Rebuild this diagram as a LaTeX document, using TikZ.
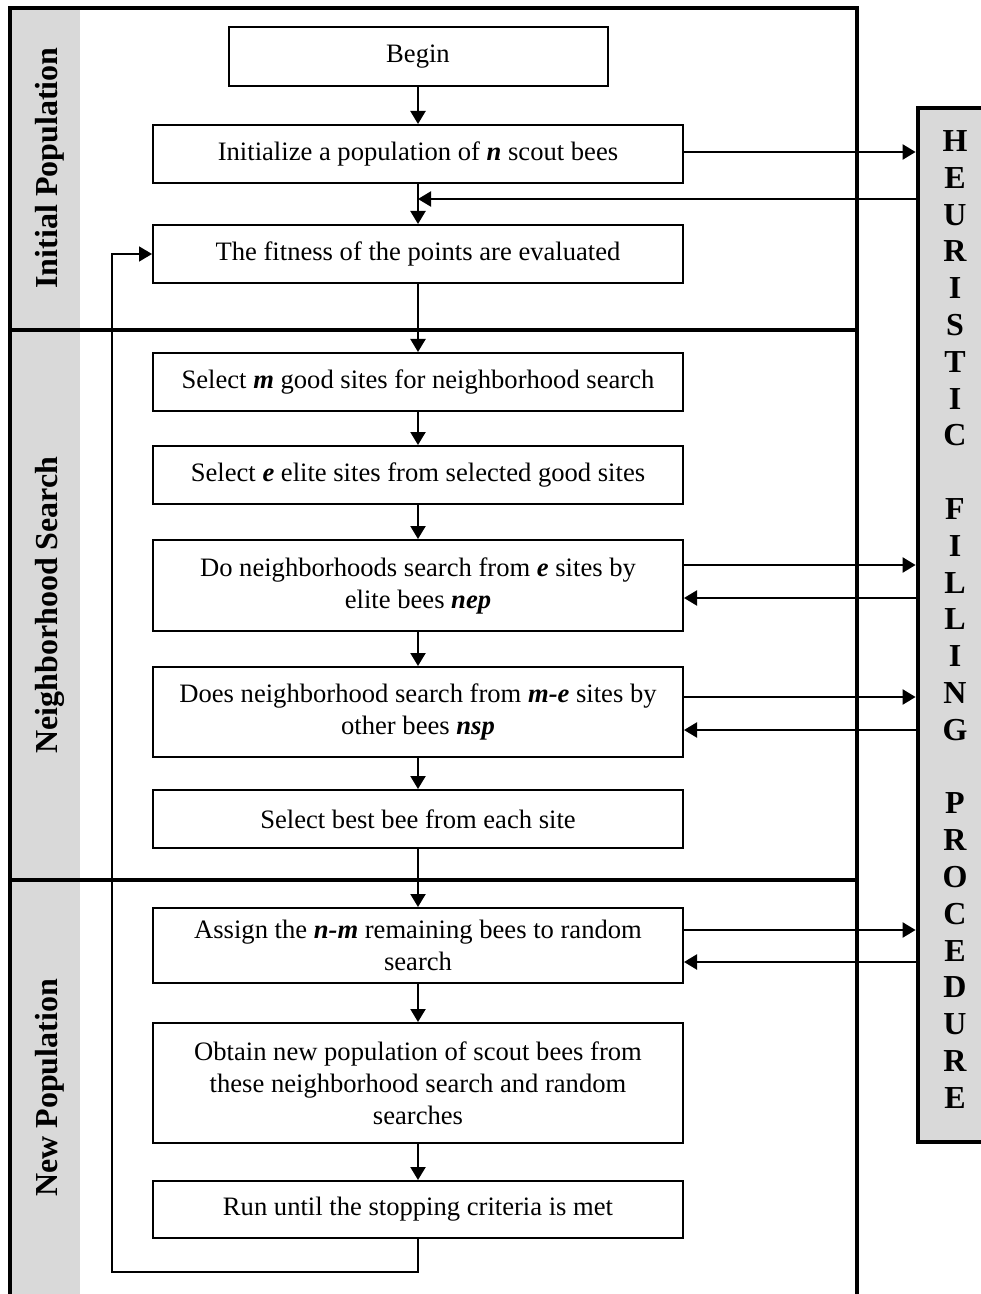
\documentclass[tikz,border=0pt]{standalone}
\usepackage{fontspec}
\setmainfont{Liberation Serif}
\usetikzlibrary{arrows.meta}
\definecolor{gris}{RGB}{217,217,217}
\tikzstyle{caja}=[draw,line width=1pt,minimum width=265pt,align=center,inner sep=2pt,font=\fontsize{13.3}{16}\selectfont]
\tikzstyle{flecha}=[line width=1.1pt,-{Triangle[length=6.5pt,width=7.5pt]}]
\tikzstyle{marco}=[line width=2.4pt]
\tikzstyle{seccion}=[rotate=90,inner sep=0pt,font=\fontsize{16}{18}\selectfont\bfseries]
\newcommand{\vb}[1]{\textbf{\textit{#1}}}

\begin{document}
\begin{tikzpicture}[x=0.5pt,y=-0.5pt]
    \useasboundingbox (0,0) rectangle (980,1294);
    \fill [gris] (12,8) rectangle (80,1294);
    \draw [marco] (10,1294) -- (10,8) -- (857,8) -- (857,1294);
    \draw [marco] (10,330) -- (857,330);
    \draw [marco] (10,880) -- (857,880);
    \node [seccion] (inicial) at (50,168) {Initial Population};
    \node [seccion] (vecindad) at (50,605) {Neighborhood Search};
    \node [seccion] (nueva) at (50,1088) {New Population};

    \node [caja,minimum width=189.5pt,minimum height=29.5pt] (begin) at (418,56.5) {Begin};
    \node [caja,minimum height=29pt] (init) at (418,154) {Initialize a population of \vb{n} scout bees};
    \node [caja,minimum height=29pt] (fit) at (418,254) {The fitness of the points are evaluated};
    \node [caja,minimum height=29pt] (selm) at (418,382) {Select \vb{m} good sites for neighborhood search};
    \node [caja,minimum height=29pt] (sele) at (418,475) {Select \vb{e} elite sites from selected good sites};
    \node [caja,minimum height=45.5pt] (donb) at (418,585.5) {Do neighborhoods search from \vb{e} sites by\\elite bees \vb{nep}};
    \node [caja,minimum height=45pt] (doesnb) at (418,712) {Does neighborhood search from \vb{m-e} sites by\\other bees \vb{nsp}};
    \node [caja,minimum height=29pt] (best) at (418,819) {Select best bee from each site};
    \node [caja,minimum height=37.5pt] (assign) at (418,945.5) {Assign the \vb{n-m} remaining bees to random\\search};
    \node [caja,minimum height=60pt] (obtain) at (418,1083) {Obtain new population of scout bees from\\these neighborhood search and random\\searches};
    \node [caja,minimum height=28.5pt] (run) at (418,1209.5) {Run until the stopping criteria is met};

    \node [draw,fill=gris,line width=2.4pt,minimum width=38pt,minimum height=517pt] (heur) at (956,625) {};
    \node [align=center,inner sep=0pt,font=\fontsize{16}{18.4}\selectfont\bfseries] (heurtxt) at (955,619.5)
        {H\\E\\U\\R\\I\\S\\T\\I\\C\\[18.4pt]F\\I\\L\\L\\I\\N\\G\\[18.4pt]P\\R\\O\\C\\E\\D\\U\\R\\E};

    \draw [flecha] (begin.south) -- (init.north);
    \draw [flecha] (init.south) -- (fit.north);
    \draw [flecha] (fit.south) -- (selm.north);
    \draw [flecha] (selm.south) -- (sele.north);
    \draw [flecha] (sele.south) -- (donb.north);
    \draw [flecha] (donb.south) -- (doesnb.north);
    \draw [flecha] (doesnb.south) -- (best.north);
    \draw [flecha] (best.south) -- (assign.north);
    \draw [flecha] (assign.south) -- (obtain.north);
    \draw [flecha] (obtain.south) -- (run.north);

    \draw [flecha] (init.east |- 0,152) -- (heur.west |- 0,152);
    \draw [flecha] (heur.west |- 0,199) -- (init.south |- 0,199);
    \draw [flecha] (donb.east |- 0,565) -- (heur.west |- 0,565);
    \draw [flecha] (heur.west |- 0,598) -- (donb.east |- 0,598);
    \draw [flecha] (doesnb.east |- 0,697) -- (heur.west |- 0,697);
    \draw [flecha] (heur.west |- 0,730) -- (doesnb.east |- 0,730);
    \draw [flecha] (assign.east |- 0,930) -- (heur.west |- 0,930);
    \draw [flecha] (heur.west |- 0,962) -- (assign.east |- 0,962);

    \draw [line width=0.8pt,-{Triangle[length=6.5pt,width=7.5pt]}] (run.south) |- (112,1272) |- (fit.west);
\end{tikzpicture}
\end{document}
